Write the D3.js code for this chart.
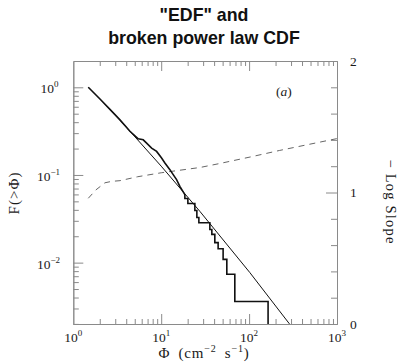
<!DOCTYPE html>
<html>
<head>
<meta charset="utf-8">
<script src="https://cdn.jsdelivr.net/npm/d3@7"></script>
<style>
  body { margin: 0; background: #fff; }
  svg { display: block; }
</style>
</head>
<body>
<svg id="chart" width="403" height="363"></svg>
<script>
// Broken power-law model CDF, F(>Phi)
const modelPhi  = [1.48, 2.29, 3.40, 10.0, 27.5, 102, 288];
const modelFrac = [1.0, 0.645, 0.422, 0.126, 0.0385, 0.0077, 0.0020];

// Empirical distribution function (outline vertices)
const edfPhi = [1.481, 2.011, 2.612, 3.395, 4.410, 5.479, 6.244, 6.825, 7.780, 8.868, 10.10, 11.02, 12.56, 13.69, 14.96, 16.31,
  18.59, 18.59, 20.11, 20.11, 24.15, 24.15, 25.45, 25.45, 26.82, 26.82, 35.77, 35.77, 37.68, 37.68,
  40.75, 40.75, 44.43, 44.43, 50.63, 50.63, 55.80, 55.80, 68.80, 68.80, 164.4, 164.4];
const edfFrac = [1.000, 0.736, 0.560, 0.425, 0.315, 0.2585, 0.2518, 0.2310, 0.2026, 0.1854, 0.1560, 0.1369, 0.1149, 0.1008, 0.0884, 0.0742,
  0.0597, 0.0538, 0.0538, 0.0472, 0.0472, 0.0393, 0.0393, 0.0327, 0.0327, 0.0285, 0.0285, 0.0239, 0.0239, 0.0210,
  0.0210, 0.0169, 0.0169, 0.0144, 0.0144, 0.0109, 0.0109, 0.00736, 0.00736, 0.00360, 0.00360, 0.0020];

// Local logarithmic slope of the model (right axis)
const slopePhi = [1.48, 1.81, 2.29, 2.75, 3.4, 5.4, 10, 27.5, 46, 103, 223, 1000];
const slopeVal = [0.956, 1.02, 1.074, 1.085, 1.09, 1.12, 1.15, 1.19, 1.22, 1.27, 1.32, 1.41];

// Axis tick labels
const xMajor = [1, 10, 100, 1000];
const xExp = ["0", "1", "2", "3"];
const yMajor = [1, 0.1, 0.01];
const yExp = ["0", "\u22121", "\u22122"];
const slopeMajor = [0, 1, 2];
const slopeMinor = [0.2, 0.4, 0.6, 0.8, 1.2, 1.4, 1.6, 1.8];

const L = 73.3, R = 337, T = 61, B = 324;
const svg = d3.select("#chart");
const serif = "'Liberation Serif', 'DejaVu Serif', serif";
const axisColor = "#8a8a8a";

const x = d3.scaleLog().domain([1, 1000]).range([L, R]);
const y = d3.scaleLog().domain([Math.pow(10, -2.7), Math.pow(10, 0.3)]).range([B, T]);
const s = d3.scaleLinear().domain([0, 2]).range([B, T]);

// Title
const title = svg.append("text")
  .attr("x", 204).attr("text-anchor", "middle")
  .attr("font-family", "'Liberation Sans', Arial, sans-serif")
  .attr("font-weight", "bold").attr("font-size", 17.8).attr("fill", "#111");
title.append("tspan").attr("x", 204).attr("y", 21).text("\"EDF\" and");
title.append("tspan").attr("x", 204).attr("y", 43.5).text("broken power law CDF");

// Tick helpers
const xMinor = x.ticks().filter(v => !xMajor.includes(v));
const yMinor = y.ticks().filter(v => !yMajor.some(m => Math.abs(m - v) / m < 1e-6) && v < Math.pow(10, 0.29));

function styleAxis(g) {
  g.select(".domain").attr("stroke", axisColor).attr("stroke-width", 1);
  g.selectAll(".tick line").attr("stroke", axisColor).attr("stroke-width", 1);
  g.selectAll(".tick text").remove();
}

svg.append("g").attr("transform", `translate(0,${B})`)
  .call(d3.axisBottom(x).tickValues(xMinor).tickSizeInner(-5).tickSizeOuter(0).tickFormat(""))
  .call(styleAxis);
svg.append("g").attr("transform", `translate(0,${B})`)
  .call(d3.axisBottom(x).tickValues(xMajor.slice(1, 3)).tickSizeInner(-10).tickSizeOuter(0).tickFormat(""))
  .call(styleAxis);
svg.append("g").attr("transform", `translate(0,${T})`)
  .call(d3.axisTop(x).tickValues(xMinor).tickSizeInner(-5).tickSizeOuter(0).tickFormat(""))
  .call(styleAxis);
svg.append("g").attr("transform", `translate(0,${T})`)
  .call(d3.axisTop(x).tickValues(xMajor.slice(1, 3)).tickSizeInner(-10).tickSizeOuter(0).tickFormat(""))
  .call(styleAxis);
svg.append("g").attr("transform", `translate(${L},0)`)
  .call(d3.axisLeft(y).tickValues(yMinor).tickSizeInner(-5.5).tickSizeOuter(0).tickFormat(""))
  .call(styleAxis);
svg.append("g").attr("transform", `translate(${L},0)`)
  .call(d3.axisLeft(y).tickValues(yMajor).tickSizeInner(-10).tickSizeOuter(0).tickFormat(""))
  .call(styleAxis);
svg.append("g").attr("transform", `translate(${R},0)`)
  .call(d3.axisRight(s).tickValues(slopeMinor).tickSizeInner(-6).tickSizeOuter(0).tickFormat(""))
  .call(styleAxis);
svg.append("g").attr("transform", `translate(${R},0)`)
  .call(d3.axisRight(s).tickValues([1]).tickSizeInner(-11).tickSizeOuter(0).tickFormat(""))
  .call(styleAxis);

// Tick labels with superscript exponents
const labelG = svg.append("g").attr("font-family", serif).attr("fill", "#1a1a1a");
xMajor.forEach((v, i) => {
  const t = labelG.append("text").attr("x", x(v)).attr("y", 341.5)
    .attr("text-anchor", "middle").attr("font-size", 13.5).text("10");
  t.append("tspan").attr("dy", -6).attr("font-size", 9).text(xExp[i]);
});
yMajor.forEach((v, i) => {
  const t = labelG.append("text").attr("x", i === 0 ? 58.5 : 60).attr("y", y(v) + 6)
    .attr("text-anchor", "end").attr("font-size", 13.5).text("10");
  t.append("tspan").attr("dy", -6).attr("font-size", 9).text(yExp[i]);
});
slopeMajor.forEach(v => {
  labelG.append("text").attr("x", 350).attr("y", s(v) + 4.5)
    .attr("font-size", 13.5).text(String(v));
});

// Panel tag
const tag = labelG.append("text").attr("x", 276).attr("y", 95.5).attr("font-size", 13.5);
tag.append("tspan").text("(");
tag.append("tspan").attr("font-style", "italic").text("a");
tag.append("tspan").text(")");

// Axis titles
const xt = labelG.append("text").attr("x", 204).attr("y", 358).attr("text-anchor", "middle")
  .attr("font-size", 15).attr("letter-spacing", 0.8);
xt.append("tspan").text("\u03A6\u2002(cm");
xt.append("tspan").attr("dy", -6).attr("font-size", 10).text("\u22122");
xt.append("tspan").attr("dy", 6).text("\u2002s");
xt.append("tspan").attr("dy", -6).attr("font-size", 10).text("\u22121");
xt.append("tspan").attr("dy", 6).text(")");

labelG.append("text").attr("transform", "translate(19,193) rotate(-90)")
  .attr("text-anchor", "middle").attr("font-size", 15).attr("letter-spacing", 1)
  .text("F(>\u03A6)");

labelG.append("text").attr("transform", "translate(386,202) rotate(90)")
  .attr("text-anchor", "middle").attr("font-size", 14.5).attr("letter-spacing", 1.2)
  .text("\u2212 Log Slope");

// Data marks, clipped to the frame
svg.append("clipPath").attr("id", "plot-area")
  .append("rect").attr("x", L).attr("y", T).attr("width", R - L).attr("height", B - T);
const plot = svg.append("g").attr("clip-path", "url(#plot-area)");

const logLine = d3.line().x(d => x(d[0])).y(d => y(d[1]));
const slopeLine = d3.line().x(d => x(d[0])).y(d => s(d[1]));

plot.append("path")
  .datum(slopePhi.map((p, i) => [p, slopeVal[i]]))
  .attr("d", slopeLine).attr("fill", "none")
  .attr("stroke", "#666").attr("stroke-width", 1).attr("stroke-dasharray", "6,5");

plot.append("path")
  .datum(modelPhi.map((p, i) => [p, modelFrac[i]]))
  .attr("d", logLine).attr("fill", "none")
  .attr("stroke", "#111").attr("stroke-width", 1);

plot.append("path")
  .datum(edfPhi.map((p, i) => [p, edfFrac[i]]))
  .attr("d", logLine).attr("fill", "none")
  .attr("stroke", "#111").attr("stroke-width", 1.6);
</script>
</body>
</html>
